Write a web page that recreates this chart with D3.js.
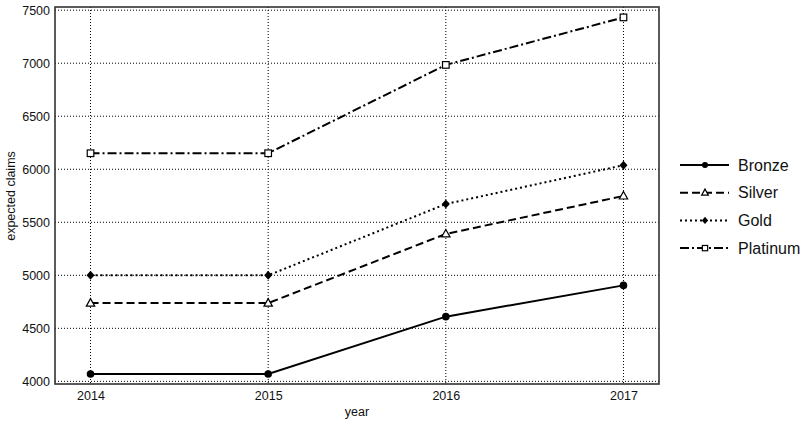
<!DOCTYPE html>
<meta charset="utf-8">
<script src="https://d3js.org/d3.v7.min.js"></script>
<style>
  body { margin: 0; background: #fff; }
  text { font-family: "Liberation Sans", Arial, sans-serif; fill: #111; }
</style>
<body>
<div id="chart"></div>
<script>
  // data
  const years = [2014, 2015, 2016, 2017];
  const tiers = ["Bronze", "Silver", "Gold", "Platinum"];
  const bronze = [4070, 4070, 4610, 4905];
  const silver = [4738, 4738, 5390, 5748];
  const gold = [5000, 5000, 5672, 6038];
  const platinum = [6151, 6151, 6984, 7432];
  const yTicks = [4000, 4500, 5000, 5500, 6000, 6500, 7000, 7500];

  const seriesValues = [bronze, silver, gold, platinum];
  const dashes = ["none", "8,4", "2,3", "9,3,2,3"];
  const markers = ["circle", "triangle", "diamond", "square"];

  const W = 806, H = 424;
  const margin = {top: 7, right: 147, bottom: 40, left: 55};
  const width = W - margin.left - margin.right,
        height = H - margin.top - margin.bottom;

  const svg = d3.select("#chart").append("svg")
    .attr("width", W).attr("height", H);
  const g = svg.append("g")
    .attr("transform", `translate(${margin.left},${margin.top})`);

  const x = d3.scaleLinear().domain([2013.8, 2017.2]).range([0, width]);
  const y = d3.scaleLinear().domain([3975, 7530]).range([height, 0]);

  // grid
  g.append("g").selectAll("line").data(years).join("line")
    .attr("x1", d => x(d)).attr("x2", d => x(d))
    .attr("y1", 0).attr("y2", height)
    .attr("stroke", "#000").attr("stroke-width", 1).attr("stroke-dasharray", "1,2");
  g.append("g").selectAll("line").data(yTicks).join("line")
    .attr("x1", 0).attr("x2", width)
    .attr("y1", d => y(d)).attr("y2", d => y(d))
    .attr("stroke", "#000").attr("stroke-width", 1).attr("stroke-dasharray", "1,2");

  // axes
  const xAxis = g.append("g")
    .attr("transform", `translate(0,${height})`)
    .call(d3.axisBottom(x).tickValues(years).tickFormat(d3.format("d")).tickSize(0).tickPadding(7));
  const yAxis = g.append("g")
    .call(d3.axisLeft(y).tickValues(yTicks).tickFormat(d3.format("d")).tickSize(0).tickPadding(5));
  [xAxis, yAxis].forEach(a => {
    a.select(".domain").remove();
    a.selectAll("text").attr("font-size", 12.5).style("font-family", "Liberation Sans, Arial, sans-serif").attr("fill", "#111");
  });

  // frame
  g.append("rect").attr("width", width).attr("height", height)
    .attr("fill", "none").attr("stroke", "#333").attr("stroke-width", 1.6);

  // axis titles
  svg.append("text").attr("x", margin.left + width / 2).attr("y", 416)
    .attr("text-anchor", "middle").attr("font-size", 12.5).text("year");
  svg.append("text").attr("transform", "translate(15,196) rotate(-90)")
    .attr("text-anchor", "middle").attr("font-size", 12.5).text("expected claims");

  function drawMarker(sel, type, cx, cy, s) {
    if (type === "circle") {
      sel.append("circle").attr("cx", cx).attr("cy", cy).attr("r", 3.8 * s).attr("fill", "#000");
    } else if (type === "triangle") {
      sel.append("path").attr("d", `M${cx},${cy - 4.5 * s}L${cx + 4.2 * s},${cy + 3 * s}L${cx - 4.2 * s},${cy + 3 * s}Z`)
        .attr("fill", "#fff").attr("stroke", "#000").attr("stroke-width", 1.2);
    } else if (type === "diamond") {
      sel.append("path").attr("d", `M${cx},${cy - 4.5 * s}L${cx + 4 * s},${cy}L${cx},${cy + 4.5 * s}L${cx - 4 * s},${cy}Z`)
        .attr("fill", "#000");
    } else {
      sel.append("rect").attr("x", cx - 3.3 * s).attr("y", cy - 3.3 * s).attr("width", 6.6 * s).attr("height", 6.6 * s)
        .attr("fill", "#fff").attr("stroke", "#000").attr("stroke-width", 1.2);
    }
  }

  const line = d3.line().x((d, i) => x(years[i])).y(d => y(d));

  seriesValues.forEach((vals, k) => {
    const sg = g.append("g");
    sg.append("path").datum(vals).attr("d", line)
      .attr("fill", "none").attr("stroke", "#000").attr("stroke-width", 2)
      .attr("stroke-dasharray", dashes[k]);
    vals.forEach((v, i) => drawMarker(sg, markers[k], x(years[i]), y(v), 1));
  });

  // legend
  const leg = svg.append("g").attr("transform", "translate(680,165)");
  tiers.forEach((t, k) => {
    const row = leg.append("g").attr("transform", `translate(0,${k * 27.7})`);
    row.append("line").attr("x1", 0).attr("x2", 49).attr("y1", 0).attr("y2", 0)
      .attr("stroke", "#000").attr("stroke-width", 2).attr("stroke-dasharray", dashes[k]);
    drawMarker(row, markers[k], 25, 0, 0.8);
    row.append("text").attr("x", 58).attr("y", 0).attr("dy", "0.35em")
      .attr("font-size", 16).text(t);
  });
</script>
</body>
